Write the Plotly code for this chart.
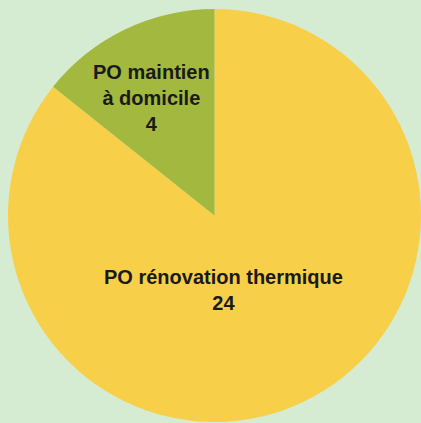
import plotly.graph_objects as go

# Répartition des dossiers PO
labels = ["PO rénovation thermique", "PO maintien<br>à domicile"]
values = [24, 4]
colors = ["#f8cf48", "#a2b83e"]

W, H = 421, 423

fig = go.Figure(
    go.Pie(
        labels=labels,
        values=values,
        sort=False,
        direction="clockwise",
        rotation=0,
        marker=dict(colors=colors, line=dict(width=0)),
        textinfo="none",
        hoverinfo="label+value",
        domain=dict(x=[8 / W, 1.0], y=[0.0, 1 - 8 / H]),
        showlegend=False,
    )
)

# Étiquettes des secteurs (position en pixels, texte issu des données)
label_pos = [(223, 290), (151, 98)]
for lab, val, (px, py) in zip(labels, values, label_pos):
    fig.add_annotation(
        x=px / W,
        y=1 - py / H,
        xref="paper",
        yref="paper",
        text=f"<b>{lab}<br>{val}</b>",
        showarrow=False,
        xanchor="center",
        yanchor="middle",
        align="center",
        font=dict(family="Liberation Sans, Arial, sans-serif", size=20, color="#1a1a1a"),
    )

fig.update_layout(
    width=W,
    height=H,
    margin=dict(l=0, r=0, t=0, b=0),
    paper_bgcolor="#d5ecd2",
    plot_bgcolor="#d5ecd2",
)

fig.write_html("out.html")
